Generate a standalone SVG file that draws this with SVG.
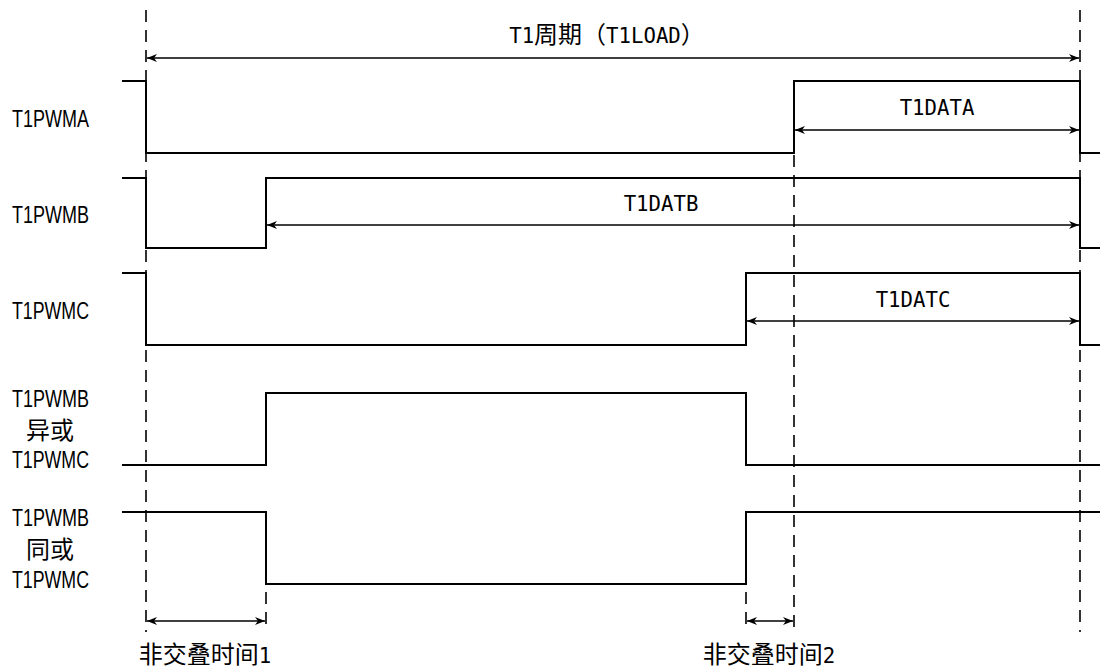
<svg xmlns="http://www.w3.org/2000/svg" width="1100" height="670" viewBox="0 0 1100 670">
  <style>
    .wave { fill: none; stroke: #000; stroke-width: 2; stroke-linejoin: miter; }
    .guide { fill: none; stroke: #000; stroke-width: 1.6; stroke-dasharray: 12 8; }
    .dim { fill: none; stroke: #000; stroke-width: 1.5; marker-start: url(#ah); marker-end: url(#ah); }
    .lbl { font-family: "Liberation Sans", Arial, sans-serif; font-size: 23px; fill: #000; }
    .cjk { font-family: "Noto Sans CJK SC", "Noto Sans CJK JP", sans-serif; font-size: 24px; fill: #000; }
    .mono { font-family: "DejaVu Sans Mono", "Liberation Mono", "Noto Sans CJK SC", monospace; font-size: 20.7px; fill: #000; }
  </style>
  <defs>
    <marker id="ah" markerUnits="userSpaceOnUse" markerWidth="12" markerHeight="10" refX="10" refY="5" orient="auto-start-reverse">
      <path d="M0,1 L10,5 L0,9 L3,5 z" fill="#000"/>
    </marker>
  </defs>
  <rect width="1100" height="670" fill="#fff"/>

  <g id="guides">
    <line class="guide" x1="146" y1="10" x2="146" y2="632"/>
    <line class="guide" x1="1080" y1="10" x2="1080" y2="632"/>
    <line class="guide" x1="794" y1="155" x2="794" y2="632"/>
    <line class="guide" x1="266" y1="592" x2="266" y2="632"/>
    <line class="guide" x1="746" y1="592" x2="746" y2="632"/>
  </g>

  <g id="sig-T1PWMA">
    <path class="wave" d="M122,81 H146 V153 H794 V81 H1080 V153 H1100"/>
    <text class="lbl" x="12" y="127" textLength="77" lengthAdjust="spacingAndGlyphs">T1PWMA</text>
  </g>
  <g id="sig-T1PWMB">
    <path class="wave" d="M122,178 H146 V248 H266 V178 H1080 V248 H1100"/>
    <text class="lbl" x="12" y="223" textLength="77" lengthAdjust="spacingAndGlyphs">T1PWMB</text>
  </g>
  <g id="sig-T1PWMC">
    <path class="wave" d="M122,273 H146 V345 H746 V273 H1080 V345 H1100"/>
    <text class="lbl" x="12" y="319" textLength="77" lengthAdjust="spacingAndGlyphs">T1PWMC</text>
  </g>
  <g id="sig-xor">
    <path class="wave" d="M122,465 H266 V393 H746 V465 H1100"/>
    <text class="lbl" x="12" y="407" textLength="77" lengthAdjust="spacingAndGlyphs">T1PWMB</text>
    <text class="cjk" x="50" y="439" text-anchor="middle">异或</text>
    <text class="lbl" x="12" y="468" textLength="77" lengthAdjust="spacingAndGlyphs">T1PWMC</text>
  </g>
  <g id="sig-xnor">
    <path class="wave" d="M122,512 H266 V584 H746 V512 H1100"/>
    <text class="lbl" x="12" y="526" textLength="77" lengthAdjust="spacingAndGlyphs">T1PWMB</text>
    <text class="cjk" x="50" y="558" text-anchor="middle">同或</text>
    <text class="lbl" x="12" y="588" textLength="77" lengthAdjust="spacingAndGlyphs">T1PWMC</text>
  </g>

  <g id="connectors">
    <line class="dim" x1="147" y1="58" x2="1079" y2="58"/>
    <line class="dim" x1="795" y1="130" x2="1079" y2="130"/>
    <line class="dim" x1="267" y1="225" x2="1079" y2="225"/>
    <line class="dim" x1="747" y1="321" x2="1079" y2="321"/>
    <line class="dim" x1="147" y1="621" x2="265" y2="621"/>
    <line class="dim" x1="747" y1="621" x2="793" y2="621"/>
  </g>

  <g id="dim-labels">
    <text class="mono" x="607" y="43" text-anchor="middle">T1<tspan class="cjk">周期（</tspan>T1LOAD<tspan class="cjk">）</tspan></text>
    <text class="mono" x="937" y="115" text-anchor="middle">T1DATA</text>
    <text class="mono" x="661" y="211" text-anchor="middle">T1DATB</text>
    <text class="mono" x="913" y="307" text-anchor="middle">T1DATC</text>
    <text class="cjk" x="205" y="663" text-anchor="middle">非交叠时间<tspan class="mono">1</tspan></text>
    <text class="cjk" x="769" y="663" text-anchor="middle">非交叠时间<tspan class="mono">2</tspan></text>
  </g>
</svg>
